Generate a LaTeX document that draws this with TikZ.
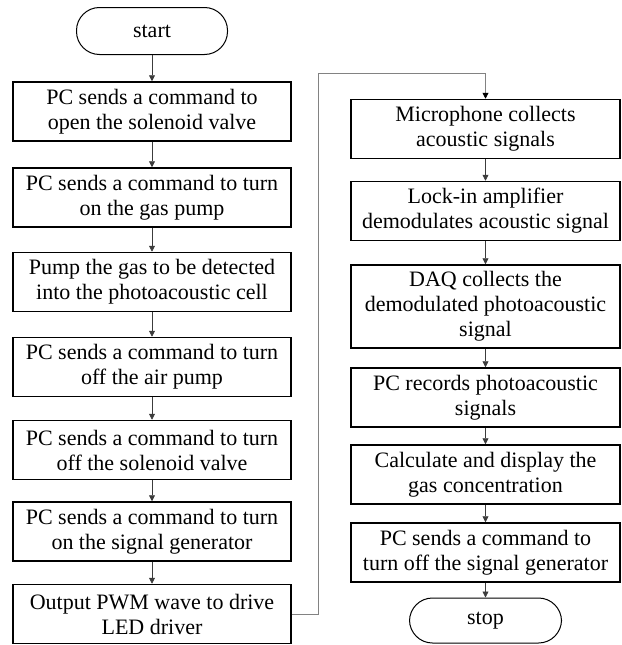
\documentclass[tikz,border=0pt]{standalone}
\usepackage{fontspec}
\setmainfont{Liberation Serif}
\usetikzlibrary{arrows.meta}
\definecolor{arrcol}{RGB}{60,60,60}
\definecolor{conncol}{RGB}{130,130,130}
\newcommand{\fs}{\fontsize{22pt}{25pt}\selectfont}
\begin{document}
\begin{tikzpicture}[x=1pt,y=-1pt,
  box/.style={draw, line width=1.5pt, minimum width=278pt, minimum height=59pt, align=center, inner sep=0pt, font=\fs},
  rbox/.style={box, minimum width=269pt},
  term/.style={draw, line width=1pt, rounded corners=23pt, minimum width=151pt, minimum height=47pt, inner sep=0pt, font=\fs},
  arr/.style={line width=0.8pt, draw=arrcol, -{Triangle[length=6pt,width=6pt]}},
  conn/.style={line width=0.9pt, draw=conncol, -{Triangle[length=6pt,width=6pt,color=black]}}
]
\useasboundingbox (0,0) rectangle (621,645);
\node[term] (start) at (152,31) {start};
\node[box] (b1) at (152,111.5) {PC sends a command to\\open the solenoid valve};
\node[box] (b2) at (152,197.5) {PC sends a command to turn\\on the gas pump};
\node[box] (b3) at (152,282) {Pump the gas to be detected\\into the photoacoustic cell};
\node[box] (b4) at (152,367) {PC sends a command to turn\\off the air pump};
\node[box] (b5) at (152,450) {PC sends a command to turn\\off the solenoid valve};
\node[box] (b6) at (152,531.5) {PC sends a command to turn\\on the signal generator};
\node[box] (b7) at (152,614) {Output PWM wave to drive\\LED driver};

\node[rbox] (r1) at (485.5,129) {Microphone collects\\acoustic signals};
\node[rbox] (r2) at (485.5,211) {Lock-in amplifier\\demodulates acoustic signal};
\node[rbox, minimum height=83pt] (r3) at (485.5,306.5) {DAQ collects the\\demodulated photoacoustic\\signal};
\node[rbox] (r4) at (485.5,397.5) {PC records photoacoustic\\signals};
\node[rbox] (r5) at (485.5,474.5) {Calculate and display the\\gas concentration};
\node[rbox] (r6) at (485.5,552.5) {PC sends a command to\\turn off the signal generator};
\node[term, minimum width=152pt, minimum height=45pt] (stop) at (485.5,620.5) {stop};

\draw[arr] (start) -- (b1);
\draw[arr] (b1) -- (b2);
\draw[arr] (b2) -- (b3);
\draw[arr] (b3) -- (b4);
\draw[arr] (b4) -- (b5);
\draw[arr] (b5) -- (b6);
\draw[arr] (b6) -- (b7);

\draw[arr] (r1) -- (r2);
\draw[arr] (r2) -- (r3);
\draw[arr] (r3) -- (r4);
\draw[arr] (r4) -- (r5);
\draw[arr] (r5) -- (r6);
\draw[arr] (r6) -- (stop);

\coordinate (c1) at (318,73);
\draw[conn] (b7.east) -| (c1) -| (r1.north);
\end{tikzpicture}
\end{document}
